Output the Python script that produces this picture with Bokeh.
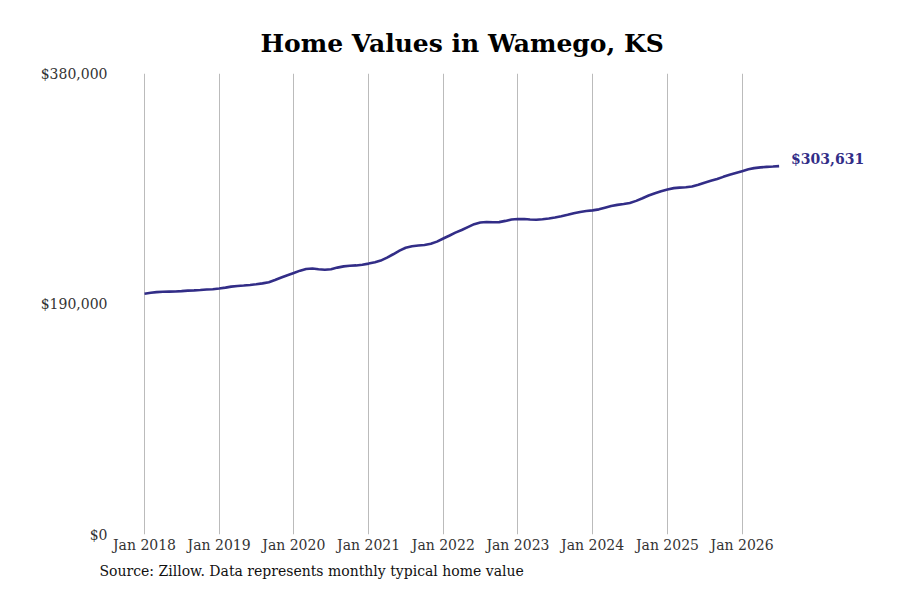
import pandas as pd
from bokeh.plotting import figure
from bokeh.models import FixedTicker, NumeralTickFormatter, DatetimeTickFormatter, Range1d, Label, Title
from bokeh.embed import file_html
from bokeh.resources import INLINE

start_month = "2018-01-01"
values = [
    198500, 199300, 199800, 200100, 200200, 200300, 200600, 201000, 201200, 201500, 201900, 202200,
    202800, 203500, 204300, 204800, 205200, 205700, 206300, 207000, 208000, 209800, 211800, 213700,
    215600, 217500, 218900, 219200, 218600, 218200, 218700, 220000, 221000, 221500, 221800, 222400,
    223300, 224400, 225800, 228200, 231000, 234000, 236400, 237600, 238200, 238600, 239600, 241400,
    244000, 246500, 248800, 251000, 253400, 255800, 257200, 257600, 257400, 257500, 258500, 259600,
    260100, 260000, 259600, 259400, 259800, 260500, 261300, 262300, 263500, 264800, 265900, 266600,
    267200, 268000, 269400, 270800, 271700, 272400, 273300, 275000, 277200, 279400, 281300, 283000,
    284400, 285500, 285900, 286200, 286800, 288300, 290000, 291500, 293000, 294800, 296500, 298000,
    299500, 301000, 302000, 302600, 303000, 303300, 303631,
]
y_ticks = [0, 190000, 380000]
x_tick_years = list(range(2018, 2027))
last_label = "$303,631"
source_text = "Source: Zillow. Data represents monthly typical home value"

dates = pd.date_range(start_month, periods=len(values), freq="MS")
ms_day = 86400000.0
t0 = pd.Timestamp("2018-01-01").value / 1e6
px_per_day = 74.7 / 365.25
frame_left, frame_right = 115, 864
x_start = t0 - (144 - frame_left) / px_per_day * ms_day
x_end = t0 + (frame_right - 144) / px_per_day * ms_day

p = figure(width=884, height=584, output_backend="svg", toolbar_location=None,
           x_axis_type="datetime",
           x_range=Range1d(x_start, x_end), y_range=Range1d(0, 380000),
           min_border_left=frame_left, min_border_right=884 - frame_right,
           min_border_top=73, min_border_bottom=49)

p.title.text = "Home Values in Wamego, KS"
p.title.align = "left"
p.title.offset = 145
p.title.text_font = "DejaVu Serif"
p.title.text_font_style = "bold"
p.title.text_font_size = "25px"
p.title.text_color = "#000000"
p.title.standoff = 32

src = Title(text=source_text, align="left", text_font="DejaVu Serif", text_font_style="normal",
            text_font_size="14px", text_color="#111111", offset=-16, standoff=11)
p.add_layout(src, "below")

p.line(dates, values, line_color="#322d87", line_width=2.6)

p.add_layout(Label(x=dates[-1], y=values[-1], text=last_label, x_offset=12, y_offset=7,
                   text_baseline="middle", text_font="DejaVu Serif", text_font_style="bold",
                   text_font_size="14px", text_color="#322d87"))

p.yaxis.ticker = FixedTicker(ticks=y_ticks)
p.yaxis.formatter = NumeralTickFormatter(format="$0,0")
p.xaxis.ticker = FixedTicker(ticks=[pd.Timestamp(f"{y}-01-01").value / 1e6 for y in x_tick_years])
p.xaxis.formatter = DatetimeTickFormatter(years="Jan %Y", months="Jan %Y", days="Jan %Y")

for ax in (p.xaxis, p.yaxis):
    ax.axis_line_color = None
    ax.major_tick_line_color = None
    ax.minor_tick_line_color = None
    ax.major_tick_out = 0
    ax.major_tick_in = 0
    ax.minor_tick_out = 0
    ax.major_label_text_font = "DejaVu Serif"
    ax.major_label_text_font_size = "14px"
    ax.major_label_text_color = "#333333"
p.xaxis.major_label_standoff = 2
p.yaxis.major_label_standoff = 8

p.ygrid.grid_line_color = None
p.xgrid.grid_line_color = "#bbbbbb"
p.xgrid.grid_line_width = 1
p.outline_line_color = None

open("out.html", "w").write(file_html(p, INLINE))
